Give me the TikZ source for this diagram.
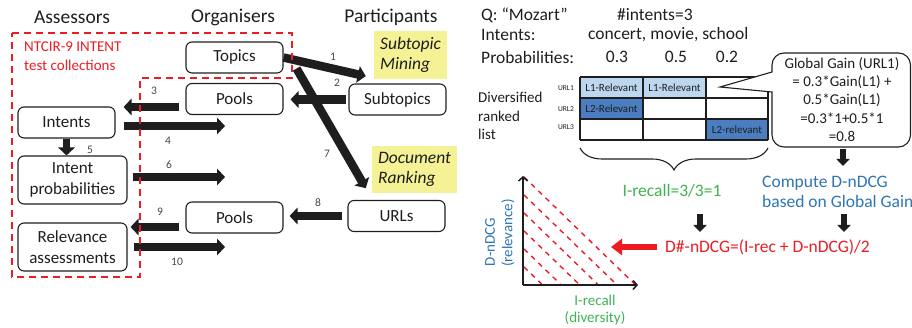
\documentclass[tikz,border=0pt]{standalone}
\usepackage{fontspec}
\setmainfont{Carlito}
\usetikzlibrary{arrows.meta,calc,decorations.pathreplacing}
\definecolor{myred}{RGB}{237,28,36}
\definecolor{mygreen}{RGB}{64,178,80}
\definecolor{myblue}{RGB}{46,117,182}
\definecolor{lblue}{RGB}{189,215,238}
\definecolor{dblue}{RGB}{74,126,193}
\definecolor{hlyellow}{RGB}{245,242,150}
\definecolor{ink}{RGB}{30,30,30}
\begin{document}
\begin{tikzpicture}[x=1pt,y=-1pt,
  box/.style={draw=ink, rounded corners=6pt, line width=1.1pt, minimum width=97pt, minimum height=31pt,
    font=\fontsize{17}{21.5}\selectfont, align=center, inner sep=0pt, text=ink},
  ybox/.style={fill=hlyellow, font=\fontsize{17.5}{20}\selectfont\itshape, align=left, inner sep=0pt, text=ink},
  bigarrow/.style={line width=8.5pt, draw=ink, -{Triangle[length=8pt,width=16.5pt]}},
  smallarrow/.style={line width=5.5pt, draw=ink, -{Triangle[length=7pt,width=13pt]}},
  numlbl/.style={font=\fontsize{11.5}{11.5}\selectfont, text=black!72},
  header/.style={font=\fontsize{19.5}{20}\selectfont, text=ink},
  txt/.style={font=\fontsize{17.5}{20}\selectfont, text=ink, inner sep=0pt},
  celltxt/.style={font=\fontsize{11}{11}\selectfont, text=ink},
  urltxt/.style={font=\fontsize{7.5}{8}\selectfont, text=ink},
  reddash/.style={draw=myred, line width=1.8pt, dash pattern=on 7pt off 5pt},
  plotdash/.style={draw=myred, line width=1.4pt, dash pattern=on 5pt off 5pt},
  axis/.style={draw=ink, line width=1.5pt, -{Straight Barb[length=4pt,width=9pt]}}
]
\useasboundingbox (0,0) rectangle (912,328);

% ---------------- left part ----------------
\node[header] (hA) at (72,17) {Assessors};
\node[header] (hO) at (233,17) {Organisers};
\node[header] (hP) at (391,17) {Participants};

\node[box] (topics) at (234.5,57.5) {Topics};
\node[box] (pools1) at (234.5,99) {Pools};
\node[box] (subt) at (397.5,99.5) {Subtopics};
\node[box] (intents) at (66.5,122.5) {Intents};
\node[box, minimum width=109pt, minimum height=48pt] (iprob) at (72.5,180) {Intent\\probabilities};
\node[box, minimum width=109pt, minimum height=48pt] (rel) at (72.5,247) {Relevance\\assessments};
\node[box] (pools2) at (234.5,217.5) {Pools};
\node[box] (urls) at (396.5,216) {URLs};
\node[ybox, minimum width=73pt, minimum height=48pt] (smine) at (410.5,55) {Subtopic\\Mining};
\node[ybox, minimum width=85pt, minimum height=47pt] (dock) at (414.5,169.5) {Document\\Ranking};

\coordinate (a4e) at (225,126);
\coordinate (a6e) at (225,177);
\coordinate (a10e) at (225,247);

\draw[bigarrow] (topics.east) -- ($(smine.south west)+(-8,-3)$);
\draw[bigarrow] ($(topics.south east)+(13,-5)$) -- ($(dock.south west)+(-6,-5)$);
\draw[bigarrow, shorten <=2pt, shorten >=7pt] (subt.west) -- (subt.west -| pools1.east);
\draw[bigarrow] ($(pools1.west)+(-6,8)$) -- ($(intents.east)+(8,-15.5)$);
\draw[bigarrow] ($(intents.east)+(8,3.5)$) -- (a4e);
\draw[bigarrow, line width=7pt] (intents.south) -- (intents.south |- iprob.north);
\draw[bigarrow] ($(iprob.east)+(5,-3)$) -- (a6e);
\draw[bigarrow, shorten <=5pt, shorten >=6pt] (urls.west) -- (urls.west -| pools2.east);
\draw[bigarrow] ($(pools2.west)+(-6,9.5)$) -- ($(rel.east)+(3,-20)$);
\draw[bigarrow] ($(rel.east)+(6,0)$) -- (a10e);

\node[numlbl] (n1) at (333,57) {1};
\node[numlbl] (n2) at (337,83) {2};
\node[numlbl] (n3) at (154,91) {3};
\node[numlbl] (n4) at (168,141) {4};
\node[numlbl] (n5) at (90,150) {5};
\node[numlbl] (n6) at (169,165) {6};
\node[numlbl] (n7) at (327,154) {7};
\node[numlbl] (n8) at (318,203) {8};
\node[numlbl] (n9) at (160,212) {9};
\node[numlbl] (n10) at (177,262) {10};

\draw[reddash] (12,33) -- (292,33) -- (292,78) -- (140,78) -- (140,277) -- (12,277) -- cycle;
\node[font=\fontsize{15}{19}\selectfont, text=myred, align=left, anchor=north west, inner sep=0pt] (ntcir) at (24,42) {NTCIR-9 INTENT\\test collections};

% ---------------- right part ----------------
\node[txt, anchor=west] (q) at (481,15) {Q: “Mozart”};
\node[txt, anchor=west] (ni) at (617,15) {\#intents=3};
\node[txt, anchor=west] (il) at (481,35) {Intents:};
\node[txt, anchor=west] (iv) at (588,35) {concert, movie, school};
\node[txt, anchor=west] (pl) at (481,57) {Probabilities:};
\node[txt] (p1) at (617,57) {0.3};
\node[txt] (p2) at (676,57) {0.5};
\node[txt] (p3) at (727,57) {0.2};

\node[font=\fontsize{15}{18.5}\selectfont, text=ink, align=left, anchor=west, inner sep=0pt] (div) at (478,116) {Diversified\\ranked\\list};

% table
\fill[lblue] (580,77) rectangle (643,98);
\fill[lblue] (643,77) rectangle (706,98);
\fill[dblue] (580,98) rectangle (643,119);
\fill[dblue] (706,119) rectangle (768,140);
\foreach \yy in {77,98,119,140} \draw[ink, line width=1.1pt] (580,\yy) -- (768,\yy);
\foreach \xx in {580,643,706,768} \draw[ink, line width=1.1pt] (\xx,77) -- (\xx,140);
\node[celltxt] (c11) at (611.5,87.5) {L1-Relevant};
\node[celltxt] (c12) at (674.5,87.5) {L1-Relevant};
\node[celltxt] (c21) at (611.5,108.5) {L2-Relevant};
\node[celltxt] (c33) at (737,129.5) {L2-relevant};
\node[urltxt] (u1) at (566,88) {URL1};
\node[urltxt] (u2) at (566,109) {URL2};
\node[urltxt] (u3) at (566,127) {URL3};

% callout
\draw[ink, line width=1.1pt, fill=white] (720,87) -- (772,72) {[rounded corners=12pt] -- (772,53) -- (910.5,53) -- (910.5,147) -- (772,147)} -- (772,92) -- cycle;
\node[font=\fontsize{15}{18.3}\selectfont, text=ink, align=center, inner sep=0pt] (gg) at (842,99.5) {Global Gain (URL1)\\= 0.3*Gain(L1) +\\0.5*Gain(L1)\\=0.3*1+0.5*1\\=0.8};

% brace
\draw[ink, line width=1.1pt, decorate, decoration={brace, amplitude=22pt, mirror}] (580,148) -- (768,148);

\draw[smallarrow] (843,149) -- (843,166);
\node[txt, text=myblue, anchor=west, align=left, font=\fontsize{17.5}{20}\selectfont] (comp) at (762,192) {Compute D-nDCG\\based on Global Gain};
\node[txt, text=mygreen] (irec) at (672,191) {I-recall=3/3=1};
\draw[smallarrow] (700,214) -- (700,232);
\draw[smallarrow] (844,214) -- (844,232);
\node[txt, text=myred, anchor=west] (dnd) at (665,247) {D\#-nDCG=(I-rec + D-nDCG)/2};
\coordinate (ra) at (611,247);
\draw[myred, line width=6pt, -{Triangle[length=11pt,width=16pt]}] ($(dnd.west)+(-8,0)$) -- (ra);

% plot
\coordinate (O) at (523,285);
\coordinate (ytop) at (523,176);
\coordinate (xend) at (638,285);
\foreach \k in {1,...,6} \draw[plotdash] (524,285-18*\k) -- (523+18.6*\k,284);
\draw[axis] (O) -- (ytop);
\draw[axis] (O) -- (xend);
\node[font=\fontsize{15}{15}\selectfont, text=myblue, rotate=90] (yl1) at (490,242) {D-nDCG};
\node[font=\fontsize{15}{15}\selectfont, text=myblue, rotate=90] (yl2) at (508,233) {(relevance)};
\node[font=\fontsize{15}{15}\selectfont, text=mygreen] (xl1) at (595,300) {I-recall};
\node[font=\fontsize{15}{15}\selectfont, text=mygreen] (xl2) at (595,318) {(diversity)};
\end{tikzpicture}
\end{document}
